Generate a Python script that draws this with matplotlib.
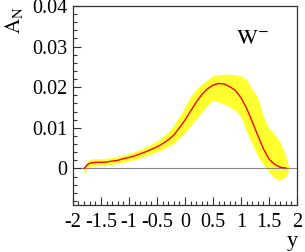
import matplotlib
matplotlib.use("Agg")
import matplotlib.pyplot as plt
from matplotlib.ticker import MultipleLocator

plt.rcParams['font.family'] = ['Liberation Serif', 'DejaVu Serif']
plt.rcParams['mathtext.fontset'] = 'stix'
plt.rcParams['axes.unicode_minus'] = False

# Data
rap = [-1.80, -1.75, -1.70, -1.60, -1.50, -1.40, -1.30, -1.20, -1.10, -1.00,
       -0.90, -0.80, -0.70, -0.60, -0.50, -0.40, -0.30, -0.20, -0.10, 0.00,
       0.10, 0.20, 0.30, 0.40, 0.50, 0.60, 0.70, 0.80, 0.90, 1.00,
       1.10, 1.20, 1.30, 1.40, 1.50, 1.60, 1.70, 1.80, 1.86]
an_center = [0.0000, 0.0008, 0.0013, 0.0015, 0.0015, 0.0016, 0.0018, 0.0020, 0.0024, 0.0027,
             0.0031, 0.0036, 0.0041, 0.0047, 0.0053, 0.0061, 0.0070, 0.0082, 0.0100, 0.0119,
             0.0141, 0.0163, 0.0182, 0.0196, 0.0205, 0.0209, 0.0208, 0.0201, 0.0192, 0.0174,
             0.0148, 0.0115, 0.0081, 0.0048, 0.0023, 0.0010, 0.0003, 0.0001, 0.0000]
an_upper = [0.0004, 0.0018, 0.0023, 0.0024, 0.0024, 0.0025, 0.0027, 0.0030, 0.0033, 0.0037,
            0.0042, 0.0047, 0.0053, 0.0060, 0.0068, 0.0078, 0.0090, 0.0107, 0.0128, 0.0152,
            0.0178, 0.0195, 0.0208, 0.0219, 0.0228, 0.0231, 0.0232, 0.0232, 0.0230, 0.0228,
            0.0218, 0.0195, 0.0174, 0.0128, 0.0098, 0.0084, 0.0064, 0.0030, 0.0000]
an_lower = [-0.0016, -0.0002, 0.0005, 0.0007, 0.0007, 0.0008, 0.0010, 0.0012, 0.0015, 0.0018,
            0.0022, 0.0026, 0.0031, 0.0036, 0.0041, 0.0047, 0.0054, 0.0062, 0.0074, 0.0090,
            0.0105, 0.0122, 0.0138, 0.0156, 0.0167, 0.0164, 0.0158, 0.0151, 0.0142, 0.0126,
            0.0090, 0.0059, 0.0030, 0.0009, -0.0010, -0.0024, -0.0029, -0.0020, 0.0000]

xticks = [-2, -1.5, -1, -0.5, 0, 0.5, 1, 1.5, 2]
xticklabels = ['-2', '-1.5', '-1', '-0.5', '0', '0.5', '1', '1.5', '2']
yticks = [0, 0.01, 0.02, 0.03, 0.04]
yticklabels = ['0', '0.01', '0.02', '0.03', '0.04']

fig = plt.figure(figsize=(3.05, 2.52), dpi=100)
ax = fig.add_axes([0.239, 0.1865, 0.735, 0.79])

ax.fill_between(rap, an_lower, an_upper, color='#ffff30', linewidth=0)
ax.plot(rap[:-1], an_center[:-1], color='#ff0000', linewidth=1.0)
ax.axhline(0, color='#888888', linewidth=0.8, zorder=1)

ax.set_xlim(-2, 2)
ax.set_ylim(-0.009, 0.04)
ax.set_xticks(xticks)
ax.set_xticklabels(xticklabels)
ax.set_yticks(yticks)
ax.set_yticklabels(yticklabels)
ax.xaxis.set_minor_locator(MultipleLocator(0.1))
ax.yaxis.set_minor_locator(MultipleLocator(0.002))
ax.tick_params(which='both', direction='in', colors='#333333', labelcolor='black',
               labelsize=14.5, width=0.8)
ax.tick_params(which='major', length=5.8)
ax.tick_params(which='minor', length=2.9)
ax.tick_params(axis='x', pad=6)
ax.tick_params(axis='y', pad=4)
for s in ax.spines.values():
    s.set_color('#333333')
    s.set_linewidth(0.9)

ax.text(0.80, 0.83, r'$\mathrm{W}^{-}$', transform=ax.transAxes, fontsize=16,
        ha='center', va='center')
fig.text(0.045, 0.975, r'$\mathrm{A_N}$', rotation=90, fontsize=15, ha='center', va='top')
fig.text(0.957, 0.005, 'y', fontsize=16, ha='center', va='bottom')

fig.savefig('out.png', dpi=100)
